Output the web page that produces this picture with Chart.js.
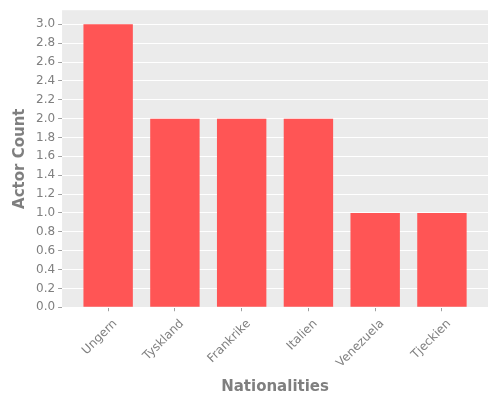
<!DOCTYPE html>
<html>
<head>
<meta charset="utf-8">
<script src="https://cdn.jsdelivr.net/npm/chart.js@4"></script>
<style>
    html, body { margin: 0; padding: 0; background: #ffffff; }
    #wrap { width: 500px; height: 400px; }
</style>
</head>
<body>
<div id="wrap"><canvas id="barChart" width="500" height="400"></canvas></div>
<script>
// Data
const nationalities = ['Ungern', 'Tyskland', 'Frankrike', 'Italien', 'Venezuela', 'Tjeckien'];
const actorCounts = [3, 2, 2, 2, 1, 1];
const yTicks = [0, 0.2, 0.4, 0.6, 0.8, 1.0, 1.2, 1.4, 1.6, 1.8, 2.0, 2.2, 2.4, 2.6, 2.8, 3.0];

const textColor = '#7f7f7f';
const panelColor = '#ebebeb';

// grey panel behind the grid
const panelBg = {
    id: 'panelBg',
    beforeDraw(chart) {
        const { ctx, chartArea } = chart;
        ctx.save();
        ctx.fillStyle = panelColor;
        ctx.fillRect(chartArea.left, chartArea.top, chartArea.right - chartArea.left, chartArea.bottom - chartArea.top);
        ctx.restore();
    }
};

const ctx = document.getElementById('barChart');
new Chart(ctx, {
    type: 'bar',
    data: {
        datasets: [{
            label: 'Actor Count',
            data: actorCounts.map((v, i) => ({ x: i, y: v })),
            backgroundColor: '#ff5555',
            borderWidth: 0,
            barPercentage: 0.74,
            categoryPercentage: 1.0
        }]
    },
    options: {
        responsive: false,
        animation: false,
        devicePixelRatio: 1,
        layout: { padding: { top: 10, right: 12, left: 1, bottom: 0 } },
        plugins: {
            legend: { display: false },
            tooltip: { enabled: false }
        },
        scales: {
            x: {
                type: 'linear',
                offset: false,
                min: -0.69,
                max: nationalities.length - 1 + 0.69,
                afterBuildTicks: s => { s.ticks = nationalities.map((_, i) => ({ value: i })); },
                ticks: {
                    color: textColor,
                    font: { family: 'DejaVu Sans', size: 12 },
                    maxRotation: 45,
                    minRotation: 45,
                    padding: 5.5,
                    labelOffset: 7,
                    callback: v => nationalities[v]
                },
                grid: { offset: false, drawOnChartArea: false, tickLength: 4, tickColor: '#a0a0a0' },
                border: { display: false },
                title: {
                    display: true,
                    text: 'Nationalities',
                    color: textColor,
                    font: { family: 'DejaVu Sans', size: 15, weight: 'bold' },
                    padding: { top: 2, bottom: 4 }
                }
            },
            y: {
                min: 0,
                max: 3.15,
                afterBuildTicks: s => { s.ticks = yTicks.map(v => ({ value: v })); },
                ticks: {
                    color: textColor,
                    font: { family: 'DejaVu Sans', size: 12 },
                    padding: 3,
                    callback: v => v.toFixed(1)
                },
                grid: { color: '#ffffff', lineWidth: 1, tickLength: 4, tickColor: '#a0a0a0' },
                border: { display: false },
                title: {
                    display: true,
                    text: 'Actor Count',
                    color: textColor,
                    font: { family: 'DejaVu Sans', size: 15, weight: 'bold' },
                    padding: { top: 10, bottom: 4 }
                }
            }
        }
    },
    plugins: [panelBg]
});
</script>
</body>
</html>
